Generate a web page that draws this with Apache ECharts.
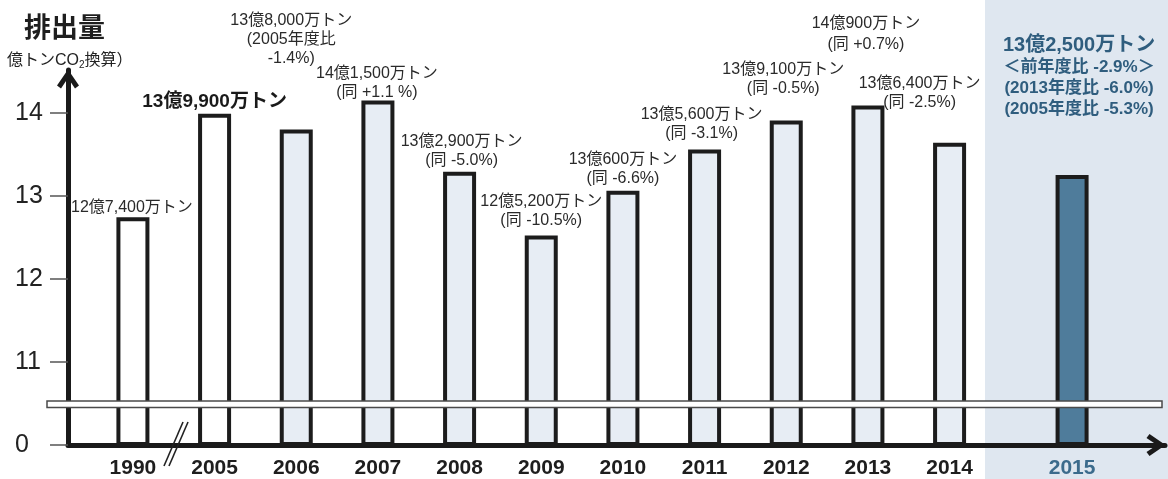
<!DOCTYPE html>
<html><head><meta charset="utf-8">
<script src="https://cdn.jsdelivr.net/npm/echarts@6/dist/echarts.min.js"></script>
<style>html,body{margin:0;padding:0;background:#fff}#c{width:1168px;height:479px}</style>
</head><body><div id="c"></div>
<script>
// ---- data ----
const years = ['1990','2005','2006','2007','2008','2009','2010','2011','2012','2013','2014','2015'];
const values = [12.74, 13.99, 13.80, 14.15, 13.29, 12.52, 13.06, 13.56, 13.91, 14.09, 13.64, 13.25];
const labels = [
  '12億7,400万トン',
  '13億9,900万トン',
  '13億8,000万トン\n(2005年度比\n-1.4%)',
  '14億1,500万トン\n(同 +1.1 %)',
  '13億2,900万トン\n(同 -5.0%)',
  '12億5,200万トン\n(同 -10.5%)',
  '13億600万トン\n(同 -6.6%)',
  '13億5,600万トン\n(同 -3.1%)',
  '13億9,100万トン\n(同 -0.5%)',
  '14億900万トン\n(同 +0.7%)',
  '13億6,400万トン\n(同 -2.5%)',
  '13億2,500万トン\n＜前年度比 -2.9%＞\n(2013年度比 -6.0%)\n(2005年度比 -5.3%)'
];
const yTickValues = [10, 11, 12, 13, 14];
const yTickLabels = ['0', '11', '12', '13', '14'];
const titleText = '排出量';
const unitPre = '億トンCO', unitSub = '2', unitPost = '換算）';

// ---- layout / styles ----
const FONT = "'Liberation Sans','Noto Sans CJK JP',sans-serif";
const spacersAfter = [1,1,1,1,1,1,1,1,1,1,2,0];
const labelPlace = [[-1,0],[0,1],[-5,61],[-1,-1],[2,2],[0,5],[0,3],[-3,6],[-3,22],[-2,50],[-30,31],[7,55]];
const labelLH = [20,22,19,19,19,19,19,19,19,21,19,0];
const HL_TEXT = '#2f5d7e';
const chevron = 'path://M11,0 L22,16 L18,19 L11,8.5 L4,19 L0,16 Z';

const cats = [], data = [];
years.forEach((y, i) => {
  const isHL = i === years.length - 1;
  cats.push(isHL ? {value: y, textStyle: {color: '#3b6b8c'}} : y);
  const fill = i < 2 ? '#ffffff' : (isHL ? '#4f7c9b' : '#e7edf4');
  const lab = {
    show: true, position: 'top', distance: labelPlace[i][1], offset: [labelPlace[i][0], 0],
    fontFamily: FONT, fontSize: 16, color: '#2a2a2a', lineHeight: labelLH[i], align: 'center'
  };
  if (i === 1) { lab.fontSize = 19; lab.fontWeight = 'bold'; lab.color = '#1a1a1a'; }
  if (isHL) {
    const ls = labels[i].split('\n');
    lab.formatter = () => '{a|' + ls[0] + '}\n' + ls.slice(1).map(l => '{b|' + l + '}').join('\n');
    lab.rich = {
      a: {fontFamily: FONT, fontSize: 20, fontWeight: 'bold', color: HL_TEXT, lineHeight: 24},
      b: {fontFamily: FONT, fontSize: 17, fontWeight: 'bold', color: HL_TEXT, lineHeight: 21}
    };
  } else {
    const t = labels[i];
    lab.formatter = () => t;
  }
  data.push({value: values[i], itemStyle: {color: fill, borderColor: '#1c1c1c', borderWidth: 4}, label: lab});
  for (let k = 0; k < spacersAfter[i]; k++) { cats.push(''); data.push('-'); }
});

const chart = echarts.init(document.getElementById('c'), null, {renderer: 'canvas'});
const Y_MIN = 10, Y_MAX = 14.52;
chart.setOption({
  backgroundColor: '#ffffff',
  animation: false,
  title: [
    {text: titleText, left: 24, top: 16, padding: 0,
     textStyle: {fontFamily: FONT, fontSize: 27, fontWeight: 'bold', color: '#1e1e1e'}},
    {text: '{n|' + unitPre + '}{s|' + unitSub + '}{n|' + unitPost + '}', left: 7, top: 52, padding: 0,
     textStyle: {fontWeight: 'normal', rich: {
       n: {fontFamily: FONT, fontSize: 16, fontWeight: 'normal', color: '#222', lineHeight: 18},
       s: {fontFamily: FONT, fontSize: 10, fontWeight: 'normal', color: '#222', lineHeight: 18, verticalAlign: 'bottom', padding: [6, 0, 0, 0]}
     }}}
  ],
  graphic: [
    {type: 'rect', z: -10, silent: true, shape: {x: 985, y: 0, width: 183, height: 479}, style: {fill: '#dfe7f0'}},
    {type: 'rect', z: 100, silent: true, shape: {x: 47, y: 401, width: 1115, height: 6.5}, style: {fill: '#ffffff', stroke: '#4a4a4a', lineWidth: 1.5}},
    {type: 'line', z: 100, silent: true, shape: {x1: 164, y1: 466, x2: 183, y2: 422}, style: {stroke: '#222', lineWidth: 1.6}},
    {type: 'line', z: 100, silent: true, shape: {x1: 169, y1: 466, x2: 188, y2: 422}, style: {stroke: '#222', lineWidth: 1.6}}
  ],
  grid: [
    {left: 112.5, right: 75.5, top: 70, bottom: 34},
    {left: 68, right: 3, top: 70, bottom: 34}
  ],
  xAxis: [
    {type: 'category', gridIndex: 0, data: cats, boundaryGap: true,
     axisLine: {show: false}, axisTick: {show: false}, splitLine: {show: false},
     axisLabel: {interval: 0, margin: 14, fontFamily: FONT, fontSize: 21, fontWeight: 'bold', color: '#1e1e1e'}},
    {type: 'value', gridIndex: 1, min: 0, max: 1,
     axisLine: {show: true, lineStyle: {color: '#1a1a1a', width: 5}, symbol: ['none', chevron], symbolSize: [22, 19], symbolOffset: [0, -9]},
     axisTick: {show: false}, axisLabel: {show: false}, splitLine: {show: false}}
  ],
  yAxis: [
    {type: 'value', gridIndex: 0, min: Y_MIN, max: Y_MAX, show: false},
    {type: 'value', gridIndex: 1, min: Y_MIN, max: Y_MAX, interval: 1,
     axisLine: {show: true, lineStyle: {color: '#1a1a1a', width: 5}, symbol: ['none', chevron], symbolSize: [22, 19], symbolOffset: [0, -9]},
     axisTick: {show: true, length: 18, lineStyle: {color: '#555', width: 1.5}, customValues: yTickValues},
     axisLabel: {customValues: yTickValues, align: 'left', margin: 53, fontFamily: FONT, fontSize: 25, color: '#222',
       formatter: v => { const i = yTickValues.indexOf(v); return i >= 0 ? yTickLabels[i] : ''; }},
     splitLine: {show: false}}
  ],
  series: [
    {type: 'bar', xAxisIndex: 0, yAxisIndex: 0, data: data, barWidth: 33, z: 2}
  ]
});
</script>
</body></html>
